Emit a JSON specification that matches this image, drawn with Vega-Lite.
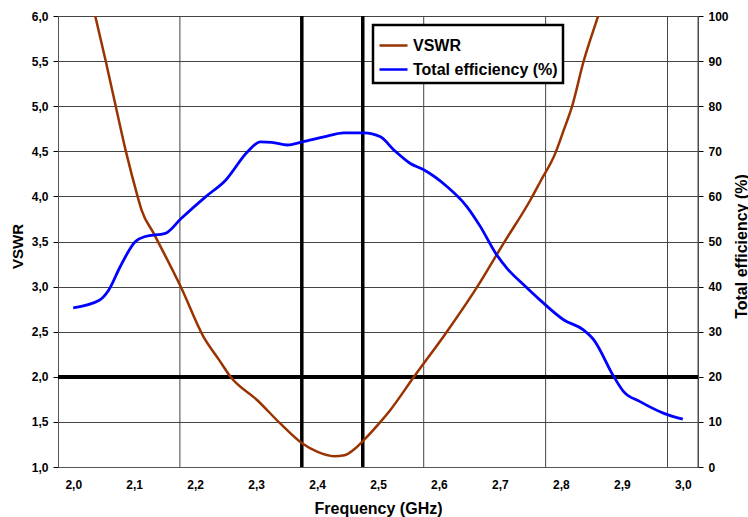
{
  "$schema": "https://vega.github.io/schema/vega-lite/v6.json",
  "width": 640,
  "height": 451,
  "autosize": {"type": "none"},
  "padding": {"left": 58, "top": 16, "right": 50, "bottom": 50},
  "background": "white",
  "config": {
    "view": {"stroke": null},
    "font": "Liberation Sans",
    "axis": {
      "labelFont": "Liberation Sans",
      "labelFontWeight": "bold",
      "labelFontSize": 12,
      "labelColor": "black",
      "titleFont": "Liberation Sans",
      "titleFontWeight": "bold",
      "titleFontSize": 16,
      "titleColor": "black",
      "domainColor": "#555555",
      "tickColor": "black"
    },
    "legend": {
      "labelFont": "Liberation Sans",
      "labelFontWeight": "bold",
      "labelFontSize": 16,
      "labelColor": "black"
    }
  },
  "datasets": {
    "vswr": [
      {"f": 2.000, "v": 7.00},
      {"f": 2.020, "v": 6.44},
      {"f": 2.034, "v": 6.06},
      {"f": 2.053, "v": 5.51},
      {"f": 2.070, "v": 4.99},
      {"f": 2.086, "v": 4.51},
      {"f": 2.106, "v": 3.99},
      {"f": 2.112, "v": 3.85},
      {"f": 2.132, "v": 3.59},
      {"f": 2.177, "v": 2.99},
      {"f": 2.214, "v": 2.44},
      {"f": 2.239, "v": 2.19},
      {"f": 2.258, "v": 2.00},
      {"f": 2.302, "v": 1.74},
      {"f": 2.340, "v": 1.48},
      {"f": 2.376, "v": 1.26},
      {"f": 2.400, "v": 1.17},
      {"f": 2.428, "v": 1.12},
      {"f": 2.445, "v": 1.13},
      {"f": 2.460, "v": 1.19},
      {"f": 2.477, "v": 1.30},
      {"f": 2.504, "v": 1.50},
      {"f": 2.520, "v": 1.63},
      {"f": 2.559, "v": 2.00},
      {"f": 2.613, "v": 2.50},
      {"f": 2.663, "v": 3.00},
      {"f": 2.706, "v": 3.48},
      {"f": 2.750, "v": 3.96},
      {"f": 2.766, "v": 4.16},
      {"f": 2.791, "v": 4.48},
      {"f": 2.805, "v": 4.74},
      {"f": 2.818, "v": 4.99},
      {"f": 2.837, "v": 5.49},
      {"f": 2.864, "v": 6.06},
      {"f": 2.880, "v": 6.41},
      {"f": 2.900, "v": 6.90},
      {"f": 3.000, "v": 9.50}
    ],
    "eff": [
      {"f": 2.000, "e": 35.3},
      {"f": 2.042, "e": 36.9},
      {"f": 2.058, "e": 39.2},
      {"f": 2.077, "e": 44.4},
      {"f": 2.102, "e": 50.0},
      {"f": 2.118, "e": 51.1},
      {"f": 2.151, "e": 51.8},
      {"f": 2.177, "e": 55.1},
      {"f": 2.217, "e": 59.9},
      {"f": 2.250, "e": 63.6},
      {"f": 2.286, "e": 69.9},
      {"f": 2.307, "e": 72.1},
      {"f": 2.326, "e": 72.0},
      {"f": 2.351, "e": 71.4},
      {"f": 2.376, "e": 72.1},
      {"f": 2.411, "e": 73.2},
      {"f": 2.444, "e": 74.1},
      {"f": 2.477, "e": 74.1},
      {"f": 2.504, "e": 73.2},
      {"f": 2.526, "e": 70.3},
      {"f": 2.553, "e": 67.3},
      {"f": 2.575, "e": 65.9},
      {"f": 2.613, "e": 62.2},
      {"f": 2.646, "e": 57.7},
      {"f": 2.668, "e": 53.3},
      {"f": 2.693, "e": 47.4},
      {"f": 2.712, "e": 44.0},
      {"f": 2.739, "e": 40.4},
      {"f": 2.766, "e": 37.0},
      {"f": 2.805, "e": 32.6},
      {"f": 2.837, "e": 30.4},
      {"f": 2.854, "e": 28.2},
      {"f": 2.887, "e": 20.0},
      {"f": 2.903, "e": 16.7},
      {"f": 2.930, "e": 14.5},
      {"f": 2.969, "e": 11.9},
      {"f": 3.000, "e": 10.6}
    ],
    "grid": [
      {"f": 2.175},
      {"f": 2.375},
      {"f": 2.575},
      {"f": 2.775},
      {"f": 2.975},
      {"f": 3.025}
    ],
    "band": [
      {"f": 2.375},
      {"f": 2.475}
    ]
  },
  "layer": [
    {
      "layer": [
        {
          "data": {"name": "grid"},
          "mark": {"type": "rule", "color": "#444444", "strokeWidth": 1},
          "encoding": {
            "x": {"field": "f", "type": "quantitative", "scale": {"domain": [1.975, 3.025], "nice": false, "zero": false}}
          }
        },
        {
          "data": {"name": "band"},
          "mark": {"type": "rule", "color": "black", "strokeWidth": 3.5},
          "encoding": {
            "x": {"field": "f", "type": "quantitative"}
          }
        },
        {
          "data": {"name": "vswr"},
          "mark": {"type": "rule", "color": "black", "strokeWidth": 3.5},
          "encoding": {
            "y": {"datum": 2}
          }
        },
        {
          "data": {"name": "vswr"},
          "mark": {"type": "line", "interpolate": "monotone", "strokeWidth": 2.5, "clip": true},
          "encoding": {
            "x": {
              "field": "f", "type": "quantitative",
              "scale": {"domain": [1.975, 3.025], "nice": false, "zero": false},
              "axis": {
                "title": "Frequency (GHz)",
                "values": [2.0, 2.1, 2.2, 2.3, 2.4, 2.5, 2.6, 2.7, 2.8, 2.9, 3.0],
                "labelExpr": "replace(format(datum.value, '.1f'), '.', ',')",
                "grid": false,
                "ticks": false,
                "labelPadding": 12,
                "titleX": 320,
                "titleY": 41,
                "titleBaseline": "middle",
                "titleAnchor": null
              }
            },
            "y": {
              "field": "v", "type": "quantitative",
              "scale": {"domain": [1, 6], "nice": false, "zero": false},
              "axis": {
                "orient": "left",
                "title": "VSWR",
                "titleFontSize": 15,
                "values": [1, 1.5, 2, 2.5, 3, 3.5, 4, 4.5, 5, 5.5, 6],
                "labelExpr": "replace(format(datum.value, '.1f'), '.', ',')",
                "grid": true,
                "gridColor": "#444444",
                "gridOpacity": 1,
                "tickSize": 5,
                "labelPadding": 5,
                "titleX": -41,
                "titleY": 230,
                "titleAngle": -90,
                "titleBaseline": "middle",
                "titleAnchor": null
              }
            },
            "color": {
              "datum": "VSWR",
              "scale": {"domain": ["VSWR", "Total efficiency (%)"], "range": ["#993300", "#0000FF"]},
              "legend": {
                "title": null,
                "orient": "none",
                "legendX": 315,
                "legendY": 9,
                "direction": "vertical",
                "fillColor": "white",
                "strokeColor": "black",
                "padding": 5,
                "rowPadding": 0,
                "symbolType": "stroke",
                "symbolSize": 784,
                "symbolStrokeWidth": 2.5,
                "labelOffset": 4,
                "encode": {"legend": {"update": {"strokeWidth": {"value": 2.5}}}}
              }
            }
          }
        }
      ]
    },
    {
      "data": {"name": "eff"},
      "mark": {"type": "line", "interpolate": "monotone", "strokeWidth": 2.8, "clip": true},
      "encoding": {
        "x": {"field": "f", "type": "quantitative"},
        "y": {
          "field": "e", "type": "quantitative",
          "scale": {"domain": [0, 100], "nice": false},
          "axis": {
            "orient": "right",
            "title": "Total efficiency (%)",
            "values": [0, 10, 20, 30, 40, 50, 60, 70, 80, 90, 100],
            "grid": false,
            "tickSize": 5,
            "labelPadding": 5,
            "titleX": 43,
            "titleY": 230,
            "titleAngle": -90,
            "titleBaseline": "middle",
            "titleAnchor": null
          }
        },
        "color": {"datum": "Total efficiency (%)"}
      }
    }
  ],
  "resolve": {"scale": {"y": "independent"}}
}
